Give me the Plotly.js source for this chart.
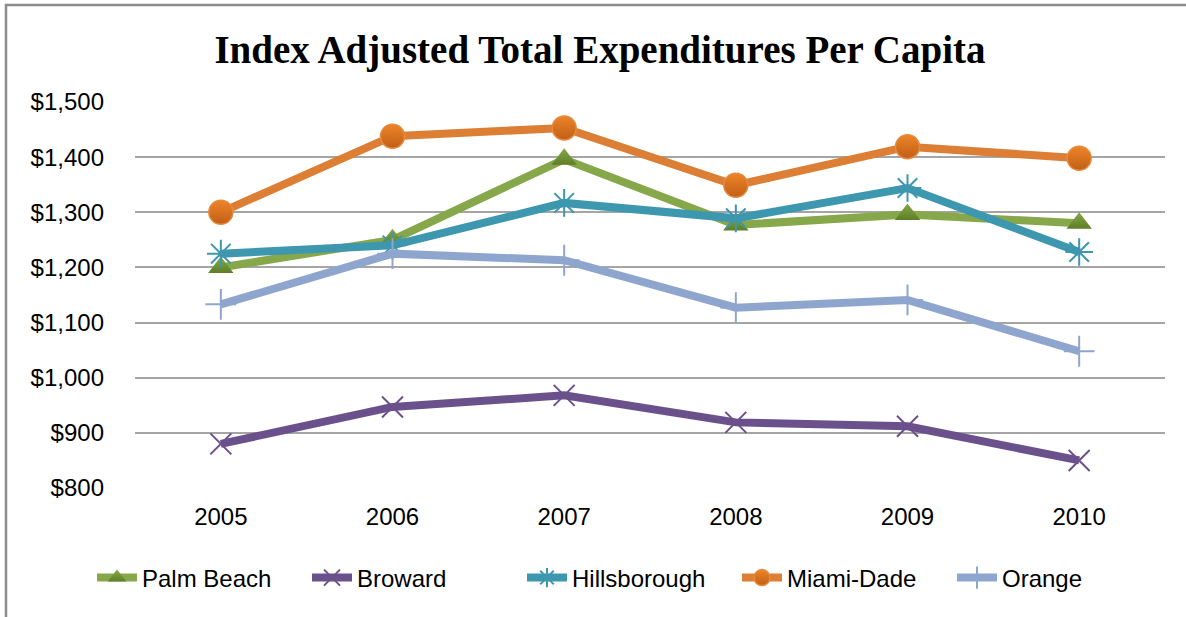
<!DOCTYPE html>
<html>
<head>
<meta charset="utf-8">
<script src="https://cdn.plot.ly/plotly-3.0.1.min.js"></script>
<style>
  html, body { margin: 0; padding: 0; background: #ffffff; }
  #chart { width: 1186px; height: 617px; }
</style>
</head>
<body>
<div id="chart"></div>
<script>
const years = ['2005', '2006', '2007', '2008', '2009', '2010'];
const palmBeach    = [1200, 1250, 1396, 1277, 1296, 1280];
const broward      = [880, 947, 968, 919, 912, 850];
const hillsborough = [1225, 1240, 1317, 1289, 1344, 1228];
const miamiDade    = [1300, 1438, 1453, 1349, 1419, 1398];
const orange       = [1133, 1225, 1213, 1127, 1141, 1048];

const seriesNames = ['Palm Beach', 'Broward', 'Hillsborough', 'Miami-Dade', 'Orange'];

const traces = [
  {
    name: seriesNames[0], x: years, y: palmBeach, type: 'scatter', mode: 'lines+markers',
    line: { color: '#86A84A', width: 8 },
    marker: { symbol: 'triangle-up', size: 22, color: '#86A845',
              gradient: { type: 'vertical', color: '#5E7E28' },
              line: { width: 0 } }
  },
  {
    name: seriesNames[1], x: years, y: broward, type: 'scatter', mode: 'lines+markers',
    line: { color: '#6B518C', width: 8 },
    marker: { symbol: 'x-thin-open', size: 21, color: '#6B518C', line: { width: 2, color: '#6B518C' } }
  },
  {
    name: seriesNames[2], x: years, y: hillsborough, type: 'scatter', mode: 'lines+markers',
    line: { color: '#3D97AE', width: 8 },
    marker: { symbol: 'asterisk-open', size: 23, color: '#3D97AE', line: { width: 2, color: '#3D97AE' } }
  },
  {
    name: seriesNames[3], x: years, y: miamiDade, type: 'scatter', mode: 'lines+markers',
    line: { color: '#DD7E35', width: 8 },
    marker: { symbol: 'circle', size: 24, color: '#EC8428',
              gradient: { type: 'vertical', color: '#C25F16' },
              line: { width: 1.5, color: '#E58A3E' } }
  },
  {
    name: seriesNames[4], x: years, y: orange, type: 'scatter', mode: 'lines+markers',
    line: { color: '#8EA6CE', width: 8 },
    marker: { symbol: 'cross-thin-open', size: 22, color: '#8EA6CE', line: { width: 2, color: '#8EA6CE' } }
  }
];

const W = 1186, H = 617;
const L = 135, R = 21, T = 102, B = 129;
const pw = W - L - R, ph = H - T - B;

const layout = {
  width: W, height: H,
  margin: { l: L, r: R, t: T, b: B, pad: 0 },
  paper_bgcolor: '#ffffff',
  plot_bgcolor: '#ffffff',
  font: { family: '"Liberation Sans", Arial, sans-serif', size: 24, color: '#000000' },
  title: {
    text: '<b>Index Adjusted Total Expenditures Per Capita</b>',
    font: { family: '"Liberation Serif", "Times New Roman", serif', size: 39, color: '#000000' },
    xref: 'container', yref: 'container',
    x: 600 / W, xanchor: 'center',
    y: 1 - 49 / H, yanchor: 'middle'
  },
  xaxis: {
    type: 'category',
    range: [-0.5, 5.5],
    showgrid: false, zeroline: false, showline: false,
    ticks: '',
    ticklabelstandoff: 12,
    tickfont: { family: '"Liberation Sans", Arial, sans-serif', size: 24, color: '#000000' }
  },
  yaxis: {
    range: [800, 1500],
    dtick: 100,
    tick0: 800,
    tickprefix: '$',
    tickformat: ',.0f',
    showgrid: true, gridcolor: '#A5A5A5', gridwidth: 2,
    zeroline: false, showline: false,
    ticks: '',
    ticklabelstandoff: 30,
    tickfont: { family: '"Liberation Sans", Arial, sans-serif', size: 24, color: '#000000' }
  },
  showlegend: true,
  legend: {
    orientation: 'h',
    x: (92 - L) / pw, xanchor: 'left',
    y: -(578 - (T + ph)) / ph, yanchor: 'middle',
    font: { family: '"Liberation Sans", Arial, sans-serif', size: 24, color: '#000000' },
    itemwidth: 40,
    entrywidth: 160,
    entrywidthmode: 'pixels',
    tracegroupgap: 0,
    bgcolor: 'rgba(0,0,0,0)'
  },
  shapes: [
    {
      type: 'rect', xref: 'paper', yref: 'paper',
      x0: (6 - L) / pw, x1: 1.2,
      y0: -0.6, y1: 1 + (T - 5) / ph,
      line: { color: '#8C8C8C', width: 2.5 },
      fillcolor: 'rgba(0,0,0,0)',
      layer: 'below'
    }
  ]
};

Plotly.newPlot('chart', traces, layout, { displayModeBar: false, responsive: false });
</script>
</body>
</html>
